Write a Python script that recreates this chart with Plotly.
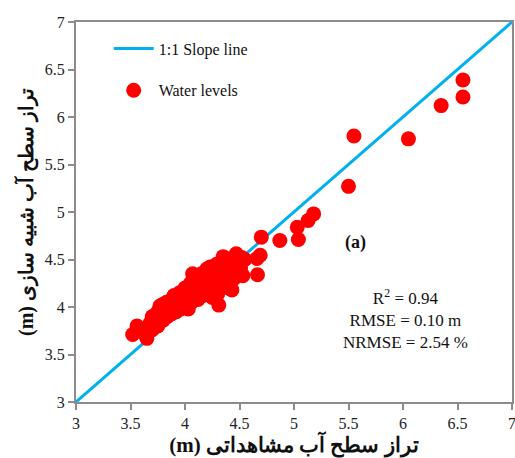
import plotly.graph_objects as go

# Observed (x) vs simulated (y) water levels
x_obs = [6.55, 6.55, 6.35, 6.05, 5.55, 5.50, 5.18, 5.13, 5.03, 5.04, 4.87, 4.70, 4.69, 4.66, 4.665,
         3.52, 3.56, 3.60, 3.65, 3.63, 3.66, 3.68, 3.70, 3.70, 3.72, 3.73, 3.75, 3.75, 3.76, 3.77,
         3.78, 3.79, 3.80, 3.80, 3.82, 3.82, 3.83, 3.84, 3.85, 3.86, 3.87, 3.88, 3.89, 3.90, 3.90,
         3.92, 3.93, 3.94, 3.95, 3.96, 3.97, 3.98, 4.00, 4.00, 4.02, 4.03, 4.04, 4.05, 4.06, 4.07,
         4.08, 4.09, 4.10, 4.12, 4.13, 4.14, 4.15, 4.16, 4.17, 4.18, 4.20, 4.20, 4.22, 4.23, 4.24,
         4.25, 4.26, 4.28, 4.29, 4.30, 4.31, 4.32, 4.33, 4.35, 4.35, 4.37, 4.38, 4.40, 4.41, 4.43,
         4.44, 4.45, 4.47, 4.48, 4.50, 4.51, 4.53, 4.52, 4.55]
y_sim = [6.39, 6.21, 6.12, 5.77, 5.80, 5.27, 4.98, 4.91, 4.84, 4.71, 4.70, 4.735, 4.545, 4.51, 4.34,
         3.71, 3.80, 3.76, 3.67, 3.72, 3.78, 3.83, 3.76, 3.90, 3.80, 3.86, 3.95, 3.80, 3.90, 4.01,
         3.86, 3.94, 4.03, 3.86, 3.92, 3.98, 4.05, 3.90, 3.95, 4.00, 4.07, 3.93, 3.98, 4.04, 4.12,
         3.95, 4.00, 4.08, 4.15, 3.98, 4.05, 4.12, 4.02, 4.20, 4.08, 3.98, 4.15, 4.25, 4.05, 4.35,
         4.12, 4.20, 4.28, 4.08, 4.17, 4.25, 4.35, 4.12, 4.21, 4.30, 4.40, 4.15, 4.25, 4.42, 4.33,
         4.10, 4.20, 4.30, 4.45, 4.14, 4.02, 4.25, 4.38, 4.53, 4.26, 4.33, 4.44, 4.20, 4.36, 4.18,
         4.48, 4.30, 4.56, 4.40, 4.45, 4.41, 4.33, 4.52, 4.50]

line_x = [3, 7]
line_y = [3, 7]

x_ticks = [3, 3.5, 4, 4.5, 5, 5.5, 6, 6.5, 7]
y_ticks = [3, 3.5, 4, 4.5, 5, 5.5, 6, 6.5, 7]

serif = "Liberation Serif"

fig = go.Figure()
fig.add_trace(go.Scatter(x=line_x, y=line_y, mode="lines", name="1:1 Slope line",
                         line=dict(color="#00B0F0", width=3), legendgroup="a"))
fig.add_trace(go.Scatter(x=x_obs, y=y_sim, mode="markers", name="Water levels",
                         marker=dict(color="#FF0000", size=15, line=dict(width=0)), legendgroup="b"))

axis_common = dict(showline=True, linecolor="#8c8c8c", linewidth=2, mirror=True,
                   ticks="outside", ticklen=6, tickwidth=2, tickcolor="#8c8c8c",
                   showgrid=False, zeroline=False, automargin=False,
                   ticklabeloverflow="allow",
                   tickfont=dict(family=serif, size=16, color="#222222"))

fig.update_xaxes(range=[3, 7], tickvals=x_ticks, ticktext=[f"{v:g}" for v in x_ticks],
                 title=dict(text="<b>(m) تراز سطح آب مشاهداتی</b>",
                            font=dict(family=serif, size=21, color="#111111"), standoff=0),
                 **axis_common)
fig.update_yaxes(range=[3, 7], tickvals=y_ticks, ticktext=[f"{v:g}" for v in y_ticks],
                 title=dict(text="<b>(m) تراز سطح آب شبیه سازی</b>",
                            font=dict(family=serif, size=20, color="#111111"), standoff=6),
                 **axis_common)

fig.add_annotation(x=5.56, y=4.68, xref="x", yref="y", text="<b>(a)</b>", showarrow=False,
                   font=dict(family=serif, size=18, color="#111111"))
fig.add_annotation(x=6.02, y=3.87, xref="x", yref="y",
                   text="R<sup>2</sup> = 0.94<br>RMSE = 0.10 m<br>NRMSE = 2.54 %",
                   showarrow=False, align="center",
                   font=dict(family=serif, size=17, color="#111111"))

fig.update_layout(
    width=515, height=458,
    margin=dict(l=76, r=3, t=22, b=56),
    paper_bgcolor="white", plot_bgcolor="white",
    showlegend=True,
    legend=dict(x=0.075, y=0.975, xanchor="left", yanchor="top",
                font=dict(family=serif, size=16, color="#111111"),
                bgcolor="rgba(0,0,0,0)", tracegroupgap=18, traceorder="grouped",
                itemwidth=40),
)

fig.write_html("out.html", config={"displayModeBar": False},
               post_script="document.body.style.margin='0';document.body.style.overflow='hidden';")
